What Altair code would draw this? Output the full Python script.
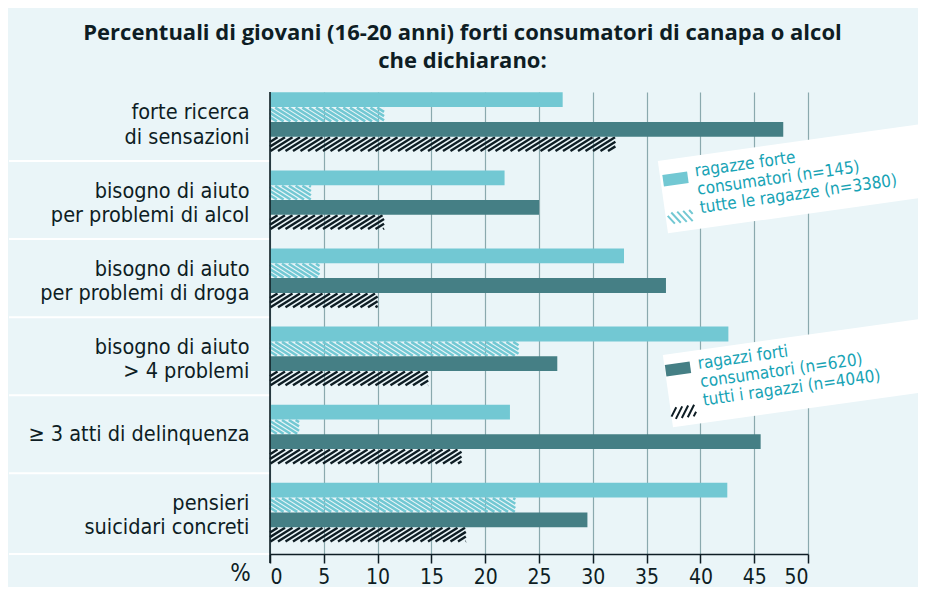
import altair as alt
import numpy as np
import pandas as pd

# ---------------- data ----------------
title_lines = [
    "Percentuali di giovani (16-20 anni) forti consumatori di canapa o alcol",
    "che dichiarano:",
]
categories = [
    "forte ricerca\ndi sensazioni",
    "bisogno di aiuto\nper problemi di alcol",
    "bisogno di aiuto\nper problemi di droga",
    "bisogno di aiuto\n> 4 problemi",
    "≥ 3 atti di delinquenza",
    "pensieri\nsuicidari concreti",
]
ragazze_forti = [27.2, 21.8, 32.9, 42.6, 22.3, 42.5]
tutte_ragazze = [10.6, 3.8, 4.6, 23.1, 2.7, 22.8]
ragazzi_forti = [47.7, 25.0, 36.8, 26.7, 45.6, 29.5]
tutti_ragazzi = [32.1, 10.6, 10.0, 14.7, 17.8, 18.2]
series_names = ["ragazze forti consumatori", "tutte le ragazze",
                "ragazzi forti consumatori", "tutti i ragazzi"]
x_ticks = [0, 5, 10, 15, 20, 25, 30, 35, 40, 45, 50]
legend1_text = ["ragazze forte", "consumatori (n=145)", "tutte le ragazze (n=3380)"]
legend2_text = ["ragazzi forti", "consumatori  (n=620)", "tutti i ragazzi  (n=4040)"]

# ---------------- layout / style ----------------
W, H = 538, 462
PX = W / 50.0
PITCH = 78.1
BAR_H = 14.8
TOP0 = 0.3

LIGHT = "#72c8d3"
DARK = "#457f85"
INK = "#0e1d24"
BG = "#eaf5f8"
GRID = "#8aa9ae"
LEG_TXT = "#17a3b5"
FONT = "Liberation Sans Narrow, DejaVu Sans Condensed, sans-serif"


def clip_lines(xmin, xmax, period, run, y_start, y_end):
    segs = []
    for a in np.arange(xmin - run, xmax, period):
        t0 = max(0.0, (xmin - a) / run)
        t1 = min(1.0, (xmax - a) / run)
        if t1 > t0:
            segs.append((a + run * t0, y_start + (y_end - y_start) * t0,
                         a + run * t1, y_start + (y_end - y_start) * t1))
    return segs


series_vals = [ragazze_forti, tutte_ragazze, ragazzi_forti, tutti_ragazzi]
rows = []
for g, cat in enumerate(categories):
    for j, vals in enumerate(series_vals):
        top = TOP0 + g * PITCH + j * BAR_H
        rows.append(dict(cat=cat, series=series_names[j], j=j, value=vals[g],
                         zero=0.0, top=top, bottom=top + BAR_H))
bars = pd.DataFrame(rows)
solid = bars[bars.j.isin([0, 2])]

P_T, R_T = 6.8 / PX, 22.0 / PX
P_K, R_K = 7.5 / PX, 22.0 / PX
teal_rows, black_rows = [], []
for _, r in bars[bars.j.isin([1, 3])].iterrows():
    t, b = r.top + 0.5, r.bottom - 0.5
    if r.j == 1:
        for s in clip_lines(0.0, r.value, P_T, R_T, t, b):
            teal_rows.append(dict(x1=s[0], y1=s[1], x2=s[2], y2=s[3]))
    else:
        for s in clip_lines(0.0, r.value, P_K, R_K, b, t):
            black_rows.append(dict(x1=s[0], y1=s[1], x2=s[2], y2=s[3]))
teal_df = pd.DataFrame(teal_rows)
black_df = pd.DataFrame(black_rows)

xscale = alt.Scale(domain=[0, 50], nice=False)
yscale = alt.Scale(domain=[0, H], reverse=True, nice=False, zero=False)
x_axis = alt.Axis(values=x_ticks, grid=True, title=None, format="d")

solid_layer = alt.Chart(solid).mark_rect().encode(
    x=alt.X("zero:Q", scale=xscale, axis=x_axis),
    x2="value:Q",
    y=alt.Y("top:Q", scale=yscale, axis=None),
    y2="bottom:Q",
    color=alt.Color("series:N", scale=alt.Scale(domain=[series_names[0], series_names[2]],
                                                 range=[LIGHT, DARK]), legend=None),
)

teal_layer = alt.Chart(teal_df).mark_rule(color=LIGHT, strokeWidth=2.5).encode(
    x=alt.X("x1:Q", scale=xscale, axis=x_axis), x2="x2:Q",
    y=alt.Y("y1:Q", scale=yscale, axis=None), y2="y2:Q")
black_layer = alt.Chart(black_df).mark_rule(color=INK, strokeWidth=2.4).encode(
    x=alt.X("x1:Q", scale=xscale, axis=x_axis), x2="x2:Q",
    y=alt.Y("y1:Q", scale=yscale, axis=None), y2="y2:Q")

sep_y = [TOP0 + g * PITCH + 4 * BAR_H + (PITCH - 4 * BAR_H) / 2 for g in range(5)] + [H]
sep_layer = alt.Chart(pd.DataFrame({"y": sep_y})).mark_rule(color="white", strokeWidth=2).encode(
    x=alt.value(-261), x2=alt.value(0), y=alt.Y("y:Q", scale=yscale, axis=None))

one = pd.DataFrame({"k": [0]})
yaxis_rule = alt.Chart(one).mark_rule(color=INK, strokeWidth=1.6).encode(
    x=alt.value(0), y=alt.value(0), y2=alt.value(H + 9))

lab_rows = []
for g, cat in enumerate(categories):
    center = TOP0 + g * PITCH + 2 * BAR_H
    n = cat.count("\n") + 1
    lab_rows.append(dict(label=cat, ty=center - 2.5 if n == 2 else center + 6.5))
label_layer = alt.Chart(pd.DataFrame(lab_rows)).mark_text(
    align="right", baseline="alphabetic", lineBreak="\n", lineHeight=24.4,
    fontSize=21.5, font=FONT, color=INK).encode(
    x=alt.value(-20.5), y=alt.Y("ty:Q", scale=yscale, axis=None), text="label:N")

# legend boxes
BOX_W = 290
box_path = "M-1,-0.252L1,-0.252L1,0.252L-1,0.252Z"
SW = 25
sw_hh = 0.46
sw_path = f"M-1,-{sw_hh}L1,-{sw_hh}L1,{sw_hh}L-1,{sw_hh}Z"


def hatch_path(direction, period_px, run_px):
    segs = clip_lines(-1.0, 1.0, period_px / (SW / 2), run_px / (SW / 2),
                      -sw_hh if direction == "down" else sw_hh,
                      sw_hh if direction == "down" else -sw_hh)
    return "".join(f"M{a:.3f},{b:.3f}L{c:.3f},{d:.3f}" for a, b, c, d in segs)


def point(path, size, cx, cy, color, filled=True, sw=0.0):
    kw = dict(shape=path, size=size, angle=352, opacity=1)
    if filled:
        kw.update(filled=True, fill=color, strokeWidth=0)
    else:
        kw.update(filled=False, stroke=color, strokeWidth=sw)
    return alt.Chart(one).mark_point(**kw).encode(
        x=alt.value(cx - 270.5), y=alt.value(cy - 92))


def legend_text(lines, x, y):
    return alt.Chart(one).mark_text(
        text=lines, align="left", baseline="alphabetic", angle=352, lineHeight=18.5,
        fontSize=17, font=FONT, color=LEG_TXT).encode(
        x=alt.value(x - 270.5), y=alt.value(y - 92))


legend_layers = [
    point(box_path, BOX_W ** 2, 807, 177, "white"),
    point(box_path, BOX_W ** 2, 812, 371, "white"),
    point(sw_path, SW ** 2, 676, 179, LIGHT),
    point(hatch_path("down", 6.0, 8.0), SW ** 2, 681, 217, LIGHT, filled=False, sw=2.0),
    point(sw_path, SW ** 2, 678.5, 369, DARK),
    point(hatch_path("up", 6.0, 8.0), SW ** 2, 684, 412, INK, filled=False, sw=2.0),
    legend_text(legend1_text, 696, 176.5),
    legend_text(legend2_text, 699, 369),
]


def title_line(text, y):
    return alt.Chart(one).mark_text(
        text=text, align="center", baseline="alphabetic",
        fontSize=22, font="Open Sans", fontWeight="bold", color=INK).encode(
        x=alt.value(463 - 270.5), y=alt.value(y - 92))


title_layers = [title_line(title_lines[0], 40), title_line(title_lines[1], 68)]

pct_layer = alt.Chart(one).mark_text(
    text="%", align="center", baseline="alphabetic", fontSize=24, font=FONT,
    color=INK).encode(x=alt.value(-29.5), y=alt.value(489))

chart = alt.layer(
    teal_layer, black_layer, solid_layer, sep_layer, yaxis_rule, label_layer,
    *legend_layers, *title_layers, pct_layer,
).properties(
    width=W, height=H,
    padding={"left": 262, "top": 84, "right": 110, "bottom": 33},
    autosize=alt.AutoSizeParams(type="none"),
    background=BG,
).configure_view(strokeWidth=0).configure_axis(
    labelFont=FONT, labelFontSize=21, labelColor=INK, labelPadding=3,
    tickSize=9, tickWidth=1.5, tickColor=INK, domainColor=INK, domainWidth=1.6,
    gridColor=GRID, gridWidth=1.2,
)

chart.save("out.html", embed_options={"renderer": "svg", "actions": False})
